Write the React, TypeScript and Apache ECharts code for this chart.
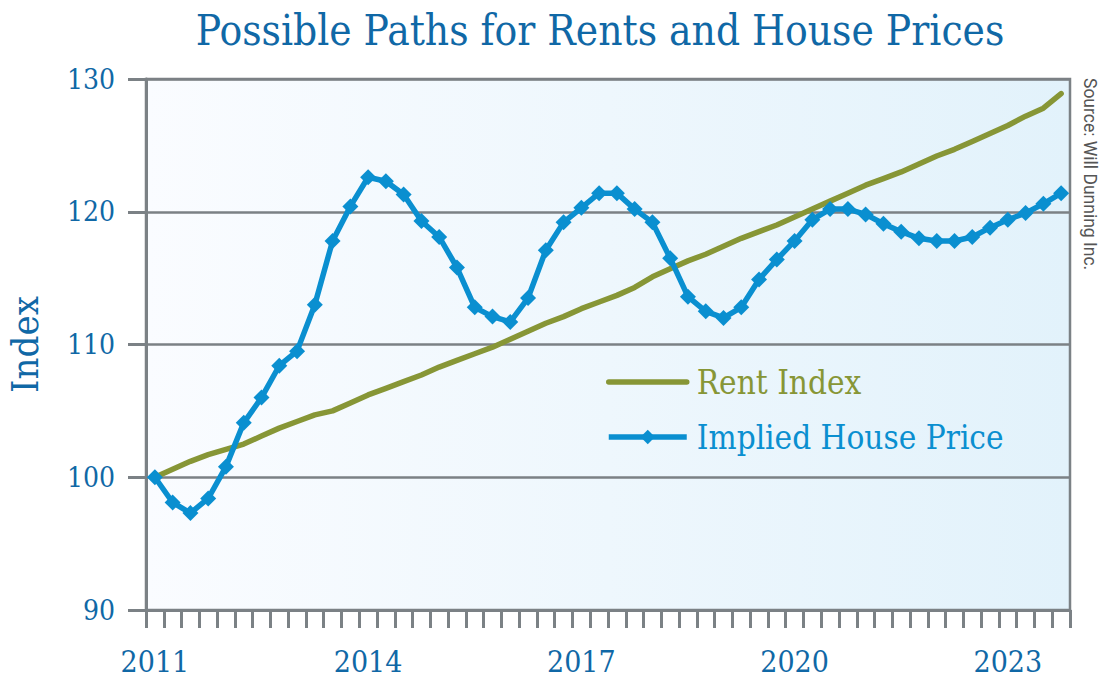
import React, { useEffect, useRef } from "react";
import * as echarts from "echarts";

const quarters: string[] = [];
for (let y = 2011; y <= 2023; y++) {
  for (let q = 1; q <= 4; q++) quarters.push(`${y}Q${q}`);
}

const yearLabels = ["2011", "2014", "2017", "2020", "2023"];

const rentIndex = [
  100.0, 100.6, 101.2, 101.7, 102.1, 102.5, 103.1, 103.7, 104.2, 104.7,
  105.0, 105.6, 106.2, 106.7, 107.2, 107.7, 108.3, 108.8, 109.3, 109.8,
  110.4, 111.0, 111.6, 112.1, 112.7, 113.2, 113.7, 114.3, 115.1, 115.7,
  116.3, 116.8, 117.4, 118.0, 118.5, 119.0, 119.6, 120.2, 120.8, 121.4,
  122.0, 122.5, 123.0, 123.6, 124.2, 124.7, 125.3, 125.9, 126.5, 127.2,
  127.8, 128.9,
];

const impliedHousePrice = [
  100.0, 98.1, 97.3, 98.4, 100.8, 104.1, 106.0, 108.4, 109.5, 113.0,
  117.8, 120.4, 122.6, 122.3, 121.3, 119.3, 118.1, 115.8, 112.8, 112.1,
  111.7, 113.5, 117.1, 119.2, 120.3, 121.4, 121.4, 120.2, 119.2, 116.5,
  113.6, 112.5, 112.0, 112.8, 114.9, 116.4, 117.8, 119.4, 120.2, 120.2,
  119.8, 119.1, 118.5, 118.0, 117.8, 117.8, 118.1, 118.8, 119.4, 119.9,
  120.6, 121.4,
];

const SERIF = '"DejaVu Serif Condensed", "DejaVu Serif", serif';
const BLUE_TEXT = "#1068a6";
const GRAY = "#7b8185";
const RENT = "#879636";
const HOUSE = "#0a8fd0";

export default function App() {
  const ref = useRef<HTMLDivElement>(null);

  useEffect(() => {
    if (!ref.current) return;
    const chart = echarts.init(ref.current, undefined, { renderer: "svg" });
    chart.setOption({
      animation: false,
      backgroundColor: "#ffffff",
      graphic: [
        {
          type: "text",
          x: 600,
          y: 30,
          style: {
            text: "Possible Paths for Rents and House Prices",
            fontFamily: SERIF,
            fontSize: 42,
            fill: BLUE_TEXT,
            align: "center",
            verticalAlign: "middle",
          },
        },
        {
          type: "text",
          x: 1099,
          y: 78,
          rotation: -Math.PI / 2,
          style: {
            text: "Source: Will Dunning Inc.",
            fontFamily: "Roboto, sans-serif",
            fontSize: 17.5,
            fill: "#555555",
            align: "left",
            verticalAlign: "top",
          },
        },
      ],
      grid: {
        left: 146,
        right: 31,
        top: 79,
        bottom: 67,
        outerBoundsMode: "none",
        containLabel: false,
        show: true,
        borderColor: GRAY,
        borderWidth: 2.5,
        backgroundColor: new echarts.graphic.LinearGradient(0, 0, 1, 0, [
          { offset: 0, color: "#fafcff" },
          { offset: 1, color: "#e2f2fb" },
        ]),
      },
      legend: {
        orient: "vertical",
        left: 606,
        top: 364,
        padding: 0,
        itemWidth: 78,
        itemHeight: 18,
        itemGap: 19,
        lineStyle: { width: 5.5 },
        textStyle: {
          fontFamily: SERIF,
          fontSize: 33,
          lineHeight: 36,
          padding: [0, 0, 0, 5],
        },
        data: [
          {
            name: "Rent Index",
            textStyle: { color: RENT },
            itemStyle: { opacity: 0 },
          },
          { name: "Implied House Price", textStyle: { color: HOUSE } },
        ],
      },
      xAxis: {
        type: "category",
        data: quarters,
        boundaryGap: true,
        axisLine: { show: true, lineStyle: { color: GRAY, width: 3 } },
        axisTick: {
          show: true,
          interval: 0,
          length: 18,
          lineStyle: { color: GRAY, width: 3 },
        },
        axisLabel: {
          interval: (i: number) => i % 12 === 0,
          formatter: (v: string) => {
            const y = v.slice(0, 4);
            return yearLabels.includes(y) ? y : "";
          },
          margin: 36,
          fontFamily: SERIF,
          fontSize: 30,
          color: BLUE_TEXT,
        },
        splitLine: { show: false },
      },
      yAxis: {
        type: "value",
        min: 90,
        max: 130,
        interval: 10,
        name: "Index",
        nameLocation: "middle",
        nameRotate: 90,
        nameGap: 102,
        nameTextStyle: { fontFamily: SERIF, fontSize: 38, color: BLUE_TEXT },
        axisLine: { show: true, lineStyle: { color: GRAY, width: 3 } },
        axisTick: { show: true, length: 18, lineStyle: { color: GRAY, width: 3 } },
        axisLabel: {
          margin: 31,
          fontFamily: SERIF,
          fontSize: 28,
          color: BLUE_TEXT,
        },
        splitLine: { show: true, lineStyle: { color: GRAY, width: 2.5 } },
      },
      series: [
        {
          name: "Rent Index",
          type: "line",
          data: rentIndex,
          symbol: "none",
          lineStyle: { color: RENT, width: 5.5, cap: "round" },
          itemStyle: { color: RENT },
          z: 2,
        },
        {
          name: "Implied House Price",
          type: "line",
          data: impliedHousePrice,
          symbol: "diamond",
          symbolSize: 16,
          showAllSymbol: true,
          lineStyle: { color: HOUSE, width: 5.5 },
          itemStyle: { color: HOUSE },
          z: 3,
        },
      ],
    });
    return () => chart.dispose();
  }, []);

  return (
    <div
      ref={ref}
      style={{ position: "fixed", left: 0, top: 0, width: 1101, height: 677 }}
    />
  );
}
